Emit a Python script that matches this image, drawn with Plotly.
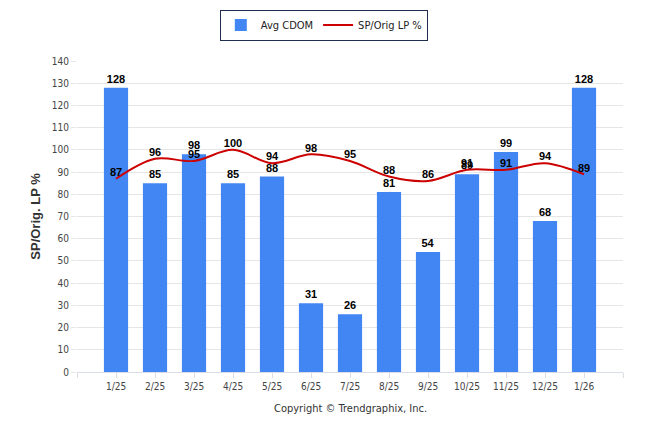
import plotly.graph_objects as go

categories = ["1/25", "2/25", "3/25", "4/25", "5/25", "6/25", "7/25",
              "8/25", "9/25", "10/25", "11/25", "12/25", "1/26"]
avg_cdom = [128, 85, 98, 85, 88, 31, 26, 81, 54, 89, 99, 68, 128]
sp_orig_lp = [87, 96, 95, 100, 94, 98, 95, 88, 86, 91, 91, 94, 89]
y_ticks = list(range(0, 141, 10))

xpos = list(range(len(categories)))
label_font = dict(family="Liberation Sans, Arial, sans-serif", size=11, color="#000000")
tick_font = dict(family="DejaVu Sans Condensed, DejaVu Sans, sans-serif", size=10, color="#444")

fig = go.Figure()
fig.add_trace(go.Bar(
    x=xpos, y=avg_cdom, name="Avg CDOM",
    marker=dict(color="#4286f4", line=dict(width=0)),
    width=0.62,
    text=[f"<b>{v}</b>" for v in avg_cdom], textposition="outside",
    textfont=label_font, cliponaxis=False,
))
fig.add_trace(go.Scatter(
    x=xpos, y=sp_orig_lp, name="SP/Orig LP %",
    mode="lines+text",
    line=dict(color="#cc0000", width=2, shape="spline", smoothing=1.0),
    text=[f"<b>{v}</b>" for v in sp_orig_lp], textposition="top center",
    textfont=label_font, cliponaxis=False,
))

tickvals = [-1] + xpos + [len(categories)]
ticktext = [""] + categories + [""]

fig.update_layout(
    width=638, height=426,
    margin=dict(l=69, r=23, t=53, b=62),
    paper_bgcolor="white", plot_bgcolor="white",
    showlegend=True,
    legend=dict(
        orientation="h", xref="container", yref="container",
        x=0.495, y=0.96, xanchor="center", yanchor="middle",
        bordercolor="#1f2d4f", borderwidth=1, bgcolor="white",
        font=dict(family="DejaVu Sans Condensed, DejaVu Sans, sans-serif", size=11, color="#222"),
        traceorder="normal", itemwidth=30,
    ),
    font=dict(family="DejaVu Sans Condensed, DejaVu Sans, sans-serif", size=10, color="#444"),
    xaxis=dict(
        range=[-1, len(categories)], tickvals=tickvals, ticktext=ticktext,
        showgrid=False, showline=True, linecolor="#d8dde6", linewidth=1,
        ticks="outside", ticklen=5, tickcolor="#d8dde6",
        tickfont=tick_font, zeroline=False,
    ),
    yaxis=dict(
        range=[0, 140], tickvals=y_ticks,
        showgrid=True, gridcolor="#e6e6e6", gridwidth=1,
        zeroline=False, showline=False,
        ticks="outside", ticklen=5, tickcolor="#e6e6e6",
        tickfont=tick_font,
        title=dict(text="<b>SP/Orig. LP %</b>", standoff=8,
                   font=dict(family="Liberation Sans, Arial, sans-serif", size=13, color="#333")),
    ),
    annotations=[dict(
        text="Copyright © Trendgraphix, Inc.", xref="paper", yref="paper",
        x=0.5, y=-0.116, xanchor="center", yanchor="middle", showarrow=False,
        font=dict(family="DejaVu Sans Condensed, DejaVu Sans, sans-serif", size=11, color="#333"),
    )],
)

fig.write_html("out.html")
